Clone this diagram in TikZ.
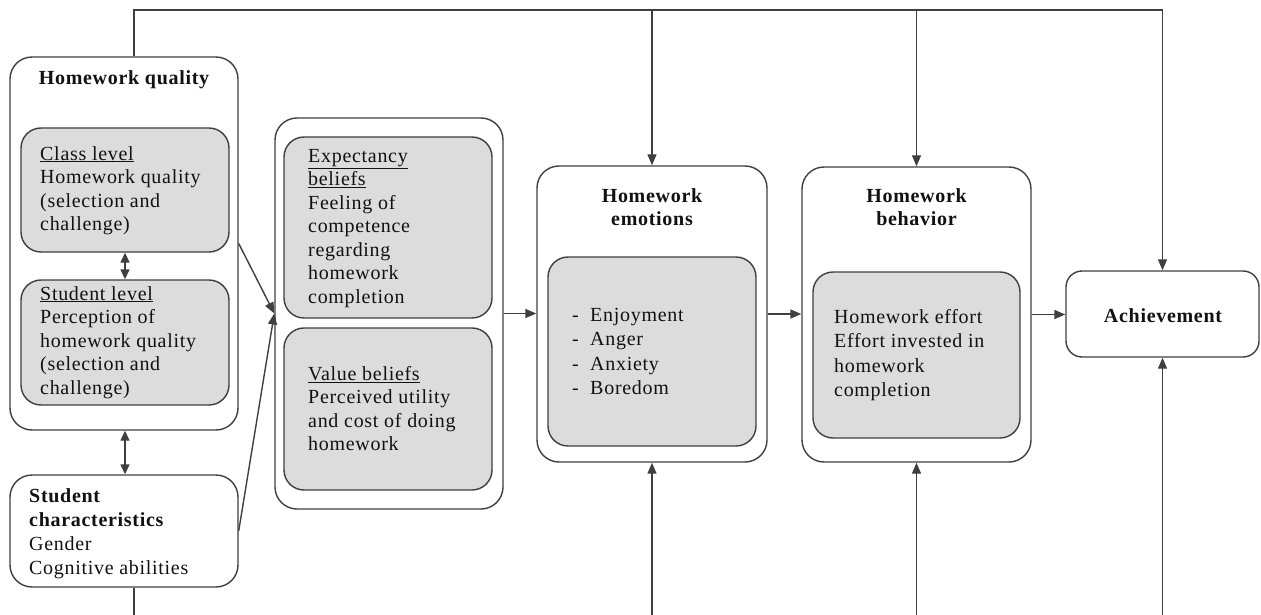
\documentclass[tikz,border=0pt]{standalone}
\usepackage{fontspec}
\setmainfont{Liberation Serif}[LetterSpace=3.5]
\usetikzlibrary{arrows.meta}
\definecolor{linegray}{HTML}{3F3F3F}
\definecolor{boxgray}{HTML}{DCDCDC}
\definecolor{inkgray}{HTML}{111111}

\begin{document}
\begin{tikzpicture}[x=1pt,y=-1pt,
  box/.style={draw=linegray, line width=1.4pt, rounded corners=22pt, fill=white},
  inbox/.style={draw=linegray, line width=1.4pt, rounded corners=20pt, fill=boxgray},
  txt/.style={anchor=north west, inner sep=0pt, align=left, text=inkgray,
              font=\fontsize{20}{23.5}\selectfont},
  ttl/.style={inner sep=0pt, align=center, text=inkgray,
              font=\bfseries\fontsize{20}{23.5}\selectfont},
  conn/.style={draw=linegray, line width=1.4pt},
  arr/.style={conn, -{Triangle[length=11pt,width=9pt]}},
  darr/.style={conn, {Triangle[length=10pt,width=9pt]}-{Triangle[length=10pt,width=9pt]}}]

\useasboundingbox (0,0) rectangle (1261,615);

% ---- boxes ----
\node[box, minimum width=228pt, minimum height=373pt] (hq) at (124,243.5) {};
\node[inbox, minimum width=208pt, minimum height=124pt] (cl) at (125,190) {};
\node[inbox, minimum width=208pt, minimum height=125pt] (sl) at (125,342.5) {};
\node[box, minimum width=228pt, minimum height=112pt] (sc) at (124,531) {};

\node[box, minimum width=228pt, minimum height=391pt] (bel) at (389,313.5) {};
\node[inbox, minimum width=208pt, minimum height=181pt] (exp) at (388,227.5) {};
\node[inbox, minimum width=208pt, minimum height=162pt] (val) at (388,409) {};

\node[box, minimum width=230pt, minimum height=296pt] (he) at (652,314) {};
\node[inbox, minimum width=208pt, minimum height=189pt] (hein) at (652,351.5) {};

\node[box, minimum width=229pt, minimum height=295pt] (hb) at (916.5,314.5) {};
\node[inbox, minimum width=207pt, minimum height=166pt] (hbin) at (916.5,355) {};

\node[box, rounded corners=16pt, minimum width=193pt, minimum height=86pt] (ach) at (1162.5,314) {};

% ---- texts ----
\node[ttl, anchor=base] (hqt) at (124,85) {Homework quality};
\node[txt] (clt) at (40,146) {\underline{Class level}\\Homework quality\\(selection and\\challenge)};
\node[txt] (slt) at (40,286) {\underline{Student level}\\Perception of\\homework quality\\(selection and\\challenge)};
\node[txt, font=\fontsize{20}{24}\selectfont] (sct) at (29,488)
  {\textbf{Student}\\\textbf{characteristics}\\Gender\\Cognitive abilities};

\node[txt] (expt) at (308,149) {\underline{Expectancy}\\\underline{beliefs}\\Feeling of\\competence\\regarding\\homework\\completion};
\node[txt] (valt) at (308,366) {\underline{Value beliefs}\\Perceived utility\\and cost of doing\\homework};

\node[ttl, anchor=north] (het) at (652,188) {Homework\\emotions};
\node[txt, font=\fontsize{20}{24.3}\selectfont] (heint) at (572,308)
  {-\ \ Enjoyment\\-\ \ Anger\\-\ \ Anxiety\\-\ \ Boredom};

\node[ttl, anchor=north] (hbt) at (916.5,188) {Homework\\behavior};
\node[txt, font=\fontsize{20}{24.5}\selectfont] (hbint) at (834,309)
  {Homework effort\\Effort invested in\\homework\\completion};

\node[ttl, anchor=base] (acht) at (1163,322) {Achievement};

% ---- connectors ----
\coordinate (tl) at (134,10);
\coordinate (bl) at (134,615);

% feedback line along the top
\draw[conn] (hq.north -| tl) -- (tl) -- (tl -| ach.north);
\draw[arr] (tl -| he.north) -- (he.north);
\draw[arr] (tl -| hb.north) -- (hb.north);
\draw[arr] (tl -| ach.north) -- (ach.north);

% lines along the bottom
\draw[conn] (sc.south -| bl) -- (bl);
\draw[arr] (he.south |- bl) -- (he.south);
\draw[arr] (hb.south |- bl) -- (hb.south);
\draw[arr] (ach.south |- bl) -- (ach.south);

% reciprocal links
\draw[darr] (cl.south) -- (sl.north);
\draw[darr] (hq.south -| cl.south) -- (sc.north -| cl.south);

% paths into beliefs and onwards
\draw[arr] (hq.east) -- (bel.west);
\draw[arr] (sc.east) -- (bel.west);
\draw[arr] (bel.east) -- (bel.east -| he.west);
\draw[arr] (he.east) -- (he.east -| hb.west);
\draw[arr] (hb.east) -- (hb.east -| ach.west);
\end{tikzpicture}
\end{document}
